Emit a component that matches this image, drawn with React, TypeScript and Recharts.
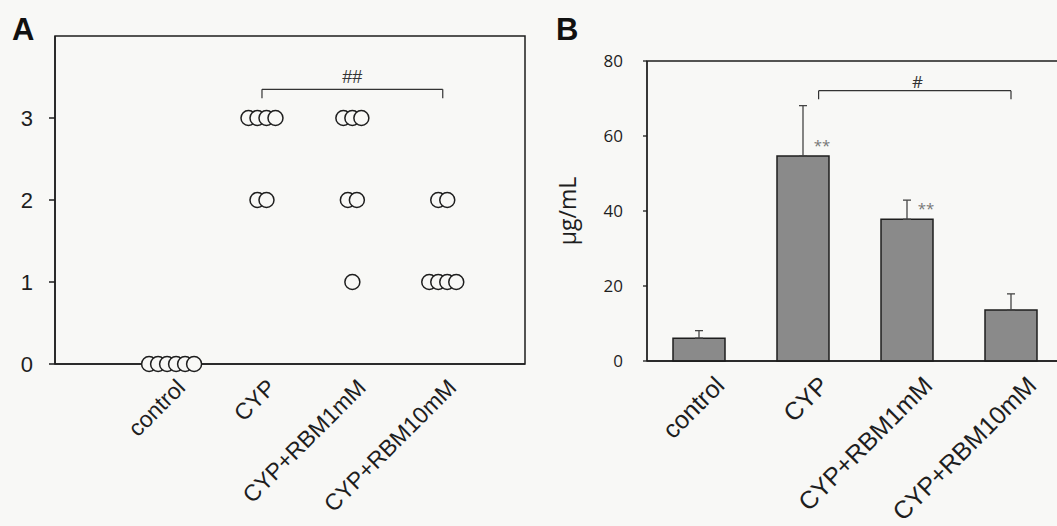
import React from 'react';
import {
  ScatterChart,
  Scatter,
  BarChart,
  Bar,
  XAxis,
  YAxis,
  ErrorBar,
  LabelList,
  ReferenceLine,
  ReferenceArea,
  ReferenceDot,
} from 'recharts';

// ---------- data ----------
const categories = ['control', 'CYP', 'CYP+RBM1mM', 'CYP+RBM10mM'];

// Panel A: individual scores per group
const scoresControl = [0, 0, 0, 0, 0, 0];
const scoresCYP = [3, 3, 3, 3, 2, 2];
const scoresRBM1 = [3, 3, 3, 2, 2, 1];
const scoresRBM10 = [2, 2, 1, 1, 1, 1];
const scoreTicks = [0, 1, 2, 3];

// Panel B: means and upper error (SD) in µg/mL
const meanValues = [6.1, 54.7, 37.8, 13.6];
const errValues = [2.0, 13.4, 5.1, 4.3];
const sigMarks = ['', '**', '**', ''];
const concTicks = [0, 20, 40, 60, 80];

// ---------- style / layout constants ----------
const BG = '#f8f8f6';
const INK = '#1e1e1e';
const ARIAL = 'Liberation Sans, Arial, sans-serif';
const OPEN = 'Open Sans, sans-serif';
const DOT_R = 7.5;
const DOT_STEP = 9;

// ---------- tables built from the data ----------
const scoreGroups = [scoresControl, scoresCYP, scoresRBM1, scoresRBM10];
const scoreTable: { x: number; y: number; slot: number }[] = [];
scoreGroups.forEach((vals, g) => {
  const levels = Array.from(new Set(vals)).sort((a, b) => b - a);
  levels.forEach((lv) => {
    const n = vals.filter((v) => v === lv).length;
    for (let k = 0; k < n; k++) {
      scoreTable.push({ x: g, y: lv, slot: k - (n - 1) / 2 });
    }
  });
});

const barTable = categories.map((name, i) => ({
  name,
  pos: i,
  mean: meanValues[i],
  err: [0, errValues[i]],
  sig: sigMarks[i],
}));

// ---------- renderers ----------
const DotShape = (props: any) => {
  const { cx, cy, payload } = props;
  return (
    <circle
      cx={cx + payload.slot * DOT_STEP}
      cy={cy}
      r={DOT_R}
      fill={BG}
      stroke={INK}
      strokeWidth={1.5}
    />
  );
};

const makeCatTick = (dx: number, dy: number, fontSize: number, numeric: boolean) => (props: any) => {
  const { x, y, payload } = props;
  const label = numeric ? categories[payload.value] : payload.value;
  return (
    <g transform={`translate(${x + dx},${y + dy})`}>
      <text
        textAnchor="end"
        transform="rotate(-45)"
        fontSize={fontSize}
        fontFamily={ARIAL}
        fill={INK}
      >
        {label}
      </text>
    </g>
  );
};

const makeValueTick = (fontSize: number, family: string) => (props: any) => {
  const { x, y, payload } = props;
  return (
    <text x={x} y={y} dy="0.36em" textAnchor="end" fontSize={fontSize} fontFamily={family} fill={INK}>
      {payload.value}
    </text>
  );
};

const SigLabel = (props: any) => {
  const { x, y, width, value } = props;
  if (!value) return null;
  return (
    <text
      x={Number(x) + Number(width) / 2 + 19}
      y={Number(y) - 5}
      textAnchor="middle"
      fontSize={15}
      fontFamily={OPEN}
      fill="#777"
    >
      {value}
    </text>
  );
};

const A_DOMAIN: [number, number] = [-1.29, 3.91];

export default function App() {
  return (
    <div
      style={{
        position: 'absolute',
        left: 0,
        top: 0,
        width: 1057,
        height: 526,
        overflow: 'hidden',
        background: BG,
      }}
    >
      {/* Panel A */}
      <div style={{ position: 'absolute', left: 0, top: 0 }}>
        <ScatterChart width={530} height={526} margin={{ top: 36, right: 5, bottom: 62, left: 0 }}>
          <XAxis
            type="number"
            dataKey="x"
            domain={A_DOMAIN}
            ticks={[0, 1, 2, 3]}
            interval={0}
            height={100}
            tickLine={false}
            tickSize={0}
            tickMargin={0}
            axisLine={{ stroke: INK, strokeWidth: 1.5 }}
            tick={makeCatTick(15, 25, 23, true)}
          />
          <YAxis
            type="number"
            dataKey="y"
            domain={[0, 4]}
            ticks={scoreTicks}
            interval={0}
            width={55}
            tickSize={6}
            tickMargin={16}
            axisLine={{ stroke: INK, strokeWidth: 1.5 }}
            tickLine={{ stroke: INK, strokeWidth: 1.5 }}
            tick={makeValueTick(22, ARIAL)}
          />
          <ReferenceArea
            x1={A_DOMAIN[0]}
            x2={A_DOMAIN[1]}
            y1={0}
            y2={4}
            fill="none"
            fillOpacity={0}
            stroke={INK}
            strokeWidth={1.5}
          />
          <ReferenceLine segment={[{ x: 1, y: 3.35 }, { x: 3, y: 3.35 }]} stroke="#333" strokeWidth={1.2} />
          <ReferenceLine segment={[{ x: 1, y: 3.35 }, { x: 1, y: 3.24 }]} stroke="#333" strokeWidth={1.2} />
          <ReferenceLine segment={[{ x: 3, y: 3.35 }, { x: 3, y: 3.24 }]} stroke="#333" strokeWidth={1.2} />
          <ReferenceDot
            x={2}
            y={3.5}
            r={0}
            fill="none"
            stroke="none"
            label={{ value: '##', position: 'center', fontSize: 18, fill: '#333', fontFamily: ARIAL }}
          />
          <Scatter data={scoreTable} shape={DotShape} isAnimationActive={false} />
        </ScatterChart>
      </div>

      {/* Panel B */}
      <div style={{ position: 'absolute', left: 489, top: 0 }}>
        <BarChart
          width={574}
          height={526}
          data={barTable}
          margin={{ top: 61, right: 0, bottom: 65, left: 0 }}
          barSize={52}
        >
          <XAxis
            dataKey="name"
            type="category"
            interval={0}
            height={100}
            tickLine={false}
            tickSize={0}
            tickMargin={0}
            axisLine={{ stroke: INK, strokeWidth: 1.3 }}
            tick={makeCatTick(27, 26, 25, false)}
          />
          <XAxis
            xAxisId="num"
            dataKey="pos"
            type="number"
            domain={[-0.5, 3.5]}
            allowDataOverflow
            hide
          />
          <YAxis
            type="number"
            domain={[0, 80]}
            ticks={concTicks}
            interval={0}
            width={158}
            tickSize={4}
            tickMargin={20}
            axisLine={{ stroke: INK, strokeWidth: 1.3 }}
            tickLine={{ stroke: INK, strokeWidth: 1.3 }}
            tick={makeValueTick(17, OPEN)}
            label={{
              value: 'µg/mL',
              angle: -90,
              position: 'center',
              fontSize: 23,
              fill: INK,
              fontFamily: OPEN,
            }}
          />
          <ReferenceArea
            xAxisId="num"
            x1={-0.5}
            x2={3.5}
            y1={0}
            y2={80}
            fill="none"
            fillOpacity={0}
            stroke={INK}
            strokeWidth={1.3}
          />
          <Bar dataKey="mean" fill="#8a8a8a" stroke={INK} strokeWidth={1.5} isAnimationActive={false}>
            <ErrorBar dataKey="err" width={4} stroke="#444" strokeWidth={1.3} direction="y" />
            <LabelList dataKey="sig" content={SigLabel} />
          </Bar>
          <ReferenceLine xAxisId="num" segment={[{ x: 1.15, y: 72.1 }, { x: 3, y: 72.1 }]} stroke="#333" strokeWidth={1.2} />
          <ReferenceLine xAxisId="num" segment={[{ x: 1.15, y: 72.1 }, { x: 1.15, y: 69.8 }]} stroke="#333" strokeWidth={1.2} />
          <ReferenceLine xAxisId="num" segment={[{ x: 3, y: 72.1 }, { x: 3, y: 69.8 }]} stroke="#333" strokeWidth={1.2} />
          <ReferenceDot
            xAxisId="num"
            x={2.1}
            y={74.3}
            r={0}
            fill="none"
            stroke="none"
            label={{ value: '#', position: 'center', fontSize: 17, fill: '#333', fontFamily: OPEN }}
          />
        </BarChart>
      </div>

      {/* Panel letters */}
      <div
        style={{
          position: 'absolute',
          left: 12,
          top: 14,
          fontFamily: ARIAL,
          fontWeight: 'bold',
          fontSize: 31,
          lineHeight: '31px',
          color: '#111',
        }}
      >
        A
      </div>
      <div
        style={{
          position: 'absolute',
          left: 556,
          top: 14,
          fontFamily: ARIAL,
          fontWeight: 'bold',
          fontSize: 31,
          lineHeight: '31px',
          color: '#111',
        }}
      >
        B
      </div>
    </div>
  );
}
